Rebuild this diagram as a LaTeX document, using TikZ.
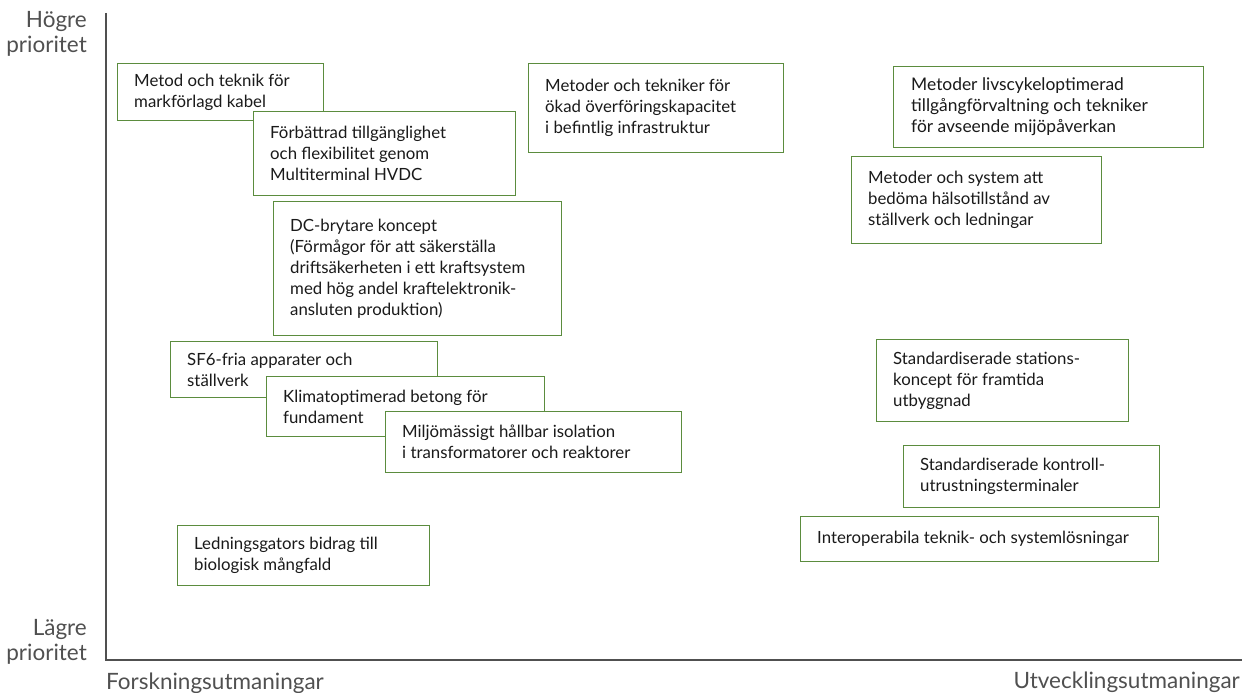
\documentclass[tikz,border=0pt]{standalone}
\usepackage{fontspec}
\setmainfont{Lato}
\definecolor{boxgreen}{HTML}{5B8C3E}
\definecolor{axisgray}{HTML}{505050}
\definecolor{txt}{HTML}{1A1A1A}
\begin{document}
\begin{tikzpicture}[x=1pt,y=-1pt,
  cframe/.style={draw=boxgreen, line width=1.2pt, fill=white, anchor=north west,
    inner sep=0pt},
  ctext/.style={anchor=west, inner sep=0pt, align=left, text=txt,
    font=\fontsize{16.8}{21}\selectfont},
  axlab/.style={text=axisgray, font=\fontsize{22.5}{25.5}\selectfont, inner sep=0pt}]
\useasboundingbox (0,0) rectangle (1247,693);
% axes
\coordinate (top) at (106,13);
\coordinate (orig) at (106,660);
\coordinate (right) at (1242,660);
\draw[axisgray, line width=1.5pt] (top) -- (orig) -- (right);
% axis labels
\node[axlab, align=right, anchor=north east] (hp) at (87,11) {Högre\\prioritet};
\node[axlab, align=right, anchor=north east] (lp) at (87,619) {Lägre\\prioritet};
\node[axlab, anchor=base west] (fu) at (106,689) {Forskningsutmaningar};
\node[axlab, anchor=base east] (uu) at (1240,688) {Utvecklingsutmaningar};
% boxes: x, y, width, height, text, name
\newcommand{\cb}[6]{%
  \node[cframe, minimum width=#3pt, minimum height=#4pt] (#6) at (#1,#2) {};
  \node[ctext] (#6t) at ([xshift=17pt]#6.west) {#5};}
\cb{117}{63}{206}{57}{Metod och teknik för\\markförlagd kabel}{b1}
\cb{253}{111}{262}{84}{Förbättrad tillgänglighet\\och flexibilitet genom\\Multiterminal HVDC}{b2}
\cb{528}{63}{255}{89}{Metoder och tekniker för\\ökad överföringskapacitet\\i befintlig infrastruktur}{b3}
\node[cframe, minimum width=310pt, minimum height=81pt] (b4) at (893,66) {};
\node[ctext, font=\fontsize{17.4}{21}\selectfont] (b4t) at ([xshift=18pt]b4.west) {Metoder livscykeloptimerad\\tillgångförvaltning och tekniker\\för avseende mijöpåverkan};
\cb{851}{156}{250}{87}{Metoder och system att\\bedöma hälsotillstånd av\\ställverk och ledningar}{b5}
\cb{273}{201}{288}{134}{DC-brytare koncept\\(Förmågor för att säkerställa\\driftsäkerheten i ett kraftsystem\\med hög andel kraftelektronik-\\ansluten produktion)}{b6}
\cb{170}{341}{267}{56}{SF6-fria apparater och\\ställverk}{b7}
\cb{266}{376}{278}{60}{Klimatoptimerad betong för\\fundament}{b8}
\cb{385}{411}{296}{61}{Miljömässigt hållbar isolation\\i transformatorer och reaktorer}{b9}
\cb{876}{339}{252}{82}{Standardiserade stations-\\koncept för framtida\\utbyggnad}{b10}
\cb{903}{445}{256}{62}{Standardiserade kontroll-\\utrustningsterminaler}{b11}
\cb{800}{516}{358}{45}{Interoperabila teknik- och systemlösningar}{b12}
\cb{177}{525}{252}{60}{Ledningsgators bidrag till\\biologisk mångfald}{b13}
\end{tikzpicture}
\end{document}
